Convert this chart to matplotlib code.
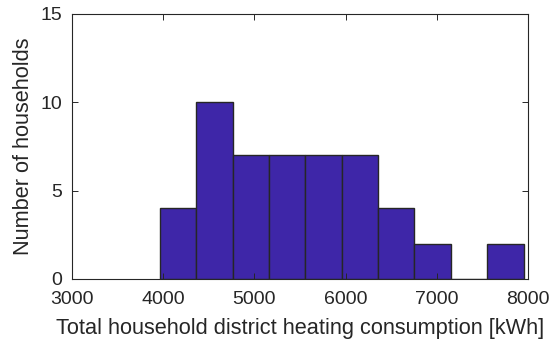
import matplotlib
matplotlib.use("Agg")
import matplotlib.pyplot as plt
import numpy as np

# histogram
bin_start = 3965
bin_end = 7950
counts = [4, 10, 7, 7, 7, 7, 4, 2, 0, 2]
x_ticks = [3000, 4000, 5000, 6000, 7000, 8000]
y_ticks = [0, 5, 10, 15]

plt.rcParams['font.family'] = ['Liberation Sans', 'DejaVu Sans']

edges = np.linspace(bin_start, bin_end, len(counts) + 1)
fig = plt.figure(figsize=(5.49, 3.41), dpi=100)
ax = fig.add_axes([0.131, 0.182, 0.831, 0.777])

ax.bar(edges[:-1], counts, width=np.diff(edges), align='edge',
       color='#3E26A8', edgecolor='#262626', linewidth=1.0)

ax.set_xlim(3000, 8000)
ax.set_ylim(0, 15)
ax.set_xticks(x_ticks)
ax.set_yticks(y_ticks)
ax.tick_params(direction='in', top=True, right=True, length=4,
               width=0.7, colors='#262626', labelsize=14)
ax.tick_params(axis='x', pad=9)
ax.tick_params(axis='y', pad=7)
for s in ax.spines.values():
    s.set_color('#262626')
    s.set_linewidth(0.8)

ax.set_xlabel('Total household district heating consumption [kWh]', fontsize=15.7, color='#262626', labelpad=7)
ax.set_ylabel('Number of households', fontsize=15.7, color='#262626', labelpad=5)

fig.savefig('out.png', dpi=100)
